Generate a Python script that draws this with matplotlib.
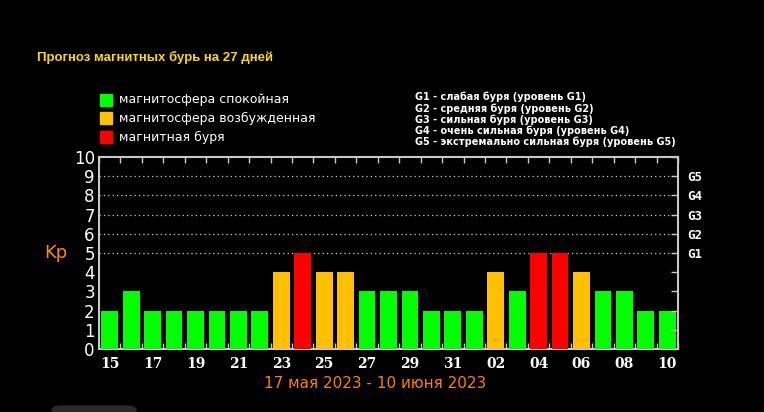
import numpy as np
import matplotlib.pyplot as plt
from matplotlib.patches import Rectangle, FancyBboxPatch

# Daily forecast, 15 May .. 10 June
days = ['15', '16', '17', '18', '19', '20', '21', '22', '23', '24', '25', '26', '27', '28',
        '29', '30', '31', '01', '02', '03', '04', '05', '06', '07', '08', '09', '10']
kp = [2, 3, 2, 2, 2, 2, 2, 2, 4, 5, 4, 4, 3, 3, 3, 2, 2, 2, 4, 3, 5, 5, 4, 3, 3, 2, 2]
g_labels = ['G1', 'G2', 'G3', 'G4', 'G5']
g_desc = ['G1 - слабая буря (уровень G1)',
          'G2 - средняя буря (уровень G2)',
          'G3 - сильная буря (уровень G3)',
          'G4 - очень сильная буря (уровень G4)',
          'G5 - экстремально сильная буря (уровень G5)']
legend_names = ['магнитосфера спокойная', 'магнитосфера возбужденная', 'магнитная буря']

green, orange, red = '#00ff00', '#ffc000', '#ff0000'


def bar_color(v):
    if v >= 5:
        return red
    if v == 4:
        return orange
    return green


fig = plt.figure(figsize=(7.64, 4.12), dpi=100, facecolor='black')
ax = fig.add_axes([0.1296, 0.1529, 0.7578, 0.466], facecolor='black')

x = np.arange(len(kp))
ax.bar(x, kp, width=0.78, color=[bar_color(v) for v in kp], zorder=3)
ax.set_xlim(-0.5, len(kp) - 0.5)
ax.set_ylim(0, 10)

# dotted levels for G1..G5
for lvl in range(5, 10):
    ax.axhline(lvl, color='#d0d0d0', linestyle=(0, (1, 2.5)), linewidth=0.9, zorder=1)

for sp in ax.spines.values():
    sp.set_color('#c8c8c8')
    sp.set_linewidth(1.5)

ax.set_xticks(x[::2])
ax.set_xticklabels(days[::2], color='white', fontsize=10, fontweight='bold',
                   family='DejaVu Serif')
ax.set_xticks(np.arange(-0.5, len(kp)), minor=True)
ax.tick_params(axis='x', which='major', length=0, pad=6)
ax.tick_params(axis='x', which='minor', direction='in', length=4, width=1,
               color='#c8c8c8', top=True, bottom=True)

ax.set_yticks(range(0, 11))
ax.set_yticklabels([str(i) for i in range(11)], color='white', fontsize=12)
ax.tick_params(axis='y', which='major', length=0, pad=3)

# right side tick marks and G labels
ax2 = ax.twinx()
ax2.set_ylim(0, 10)
ax2.set_yticks(range(0, 11))
ax2.set_yticklabels([''] * 5 + g_labels + [''], color='white', fontsize=9,
                    fontweight='bold', family='DejaVu Sans Mono')
ax2.tick_params(axis='y', direction='in', length=5, width=1, color='#c8c8c8', pad=7)
for sp in ax2.spines.values():
    sp.set_visible(False)

ax.text(-0.075, 0.5, 'Kp', transform=ax.transAxes, color='#ff8c00', fontsize=13,
        ha='center', va='center')

# title
fig.text(37 / 764, 1 - 57 / 412, 'Прогноз магнитных бурь на 27 дней', color='#ffd700',
         fontsize=9.5, fontweight='bold', family='Liberation Sans', va='center')

# legend
ly = [100, 118, 137]
for name, col, y in zip(legend_names, [green, orange, red], ly):
    fig.patches.append(Rectangle((100 / 764, 1 - (y + 6) / 412), 12 / 764, 12 / 412,
                                 transform=fig.transFigure, color=col))
    fig.text(119 / 764, 1 - y / 412, name, color='white', fontsize=9, va='center')

# storm level descriptions
for i, s in enumerate(g_desc):
    fig.text(415 / 764, 1 - (97 + 11.3 * i) / 412, s, color='white', fontsize=7,
             fontweight='bold', va='center')

# date range
fig.text(375 / 764, 1 - 384 / 412, '17 мая 2023 - 10 июня 2023', color='#ff8000',
         fontsize=11, ha='center', va='center')

# grey overlay fragment at bottom left
fig.patches.append(FancyBboxPatch((52 / 764, -10 / 412), 84 / 764, 16 / 412,
                                  boxstyle='round,pad=0,rounding_size=0.012',
                                  transform=fig.transFigure, color='#2a2a2a'))

fig.savefig('out.png', dpi=100, facecolor='black')
